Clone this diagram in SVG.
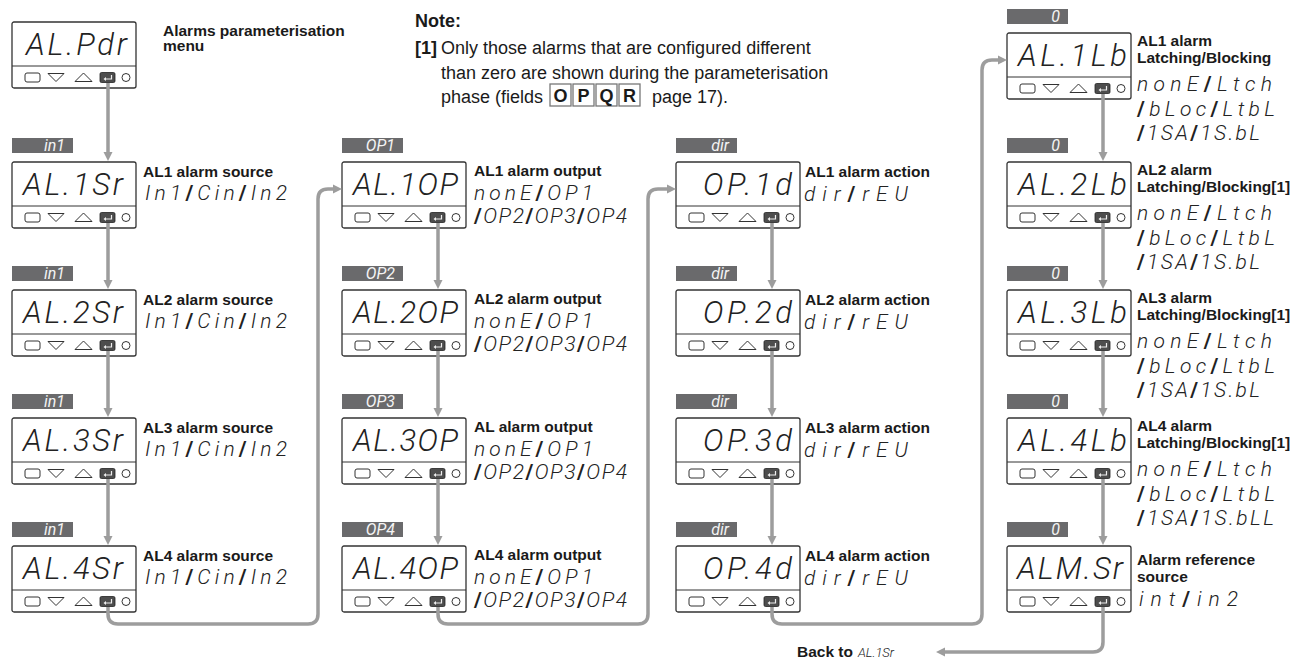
<svg xmlns="http://www.w3.org/2000/svg" xmlns:xlink="http://www.w3.org/1999/xlink" width="1296" height="659" viewBox="0 0 1296 659">
<style>
.lb{font-family:"Liberation Sans",Arial,sans-serif;font-weight:bold;font-size:15.5px;fill:#1a1a1a}
.nt{font-family:"Liberation Sans",Arial,sans-serif;font-size:18px;fill:#1a1a1a}
.ntb{font-family:"Liberation Sans",Arial,sans-serif;font-size:18px;font-weight:bold;fill:#1a1a1a}
.seg{font-family:Roboto,"DejaVu Sans",sans-serif;font-weight:300;font-style:italic;fill:#222}
.disp{font-size:31px}
.opt{font-size:21px}
.bt{font-family:Roboto,"DejaVu Sans",sans-serif;font-weight:400;font-style:italic;font-size:16px;fill:#f4f4f4;text-anchor:end}
.bar{fill:#6a6a6c}
.sl{font-weight:bold;font-style:normal}
.k{fill:none;stroke:#333;stroke-width:1}
.frame{fill:#fff;stroke:#333;stroke-width:1.3}
.cn{fill:none;stroke:#9d9d9d;stroke-width:3.5}
.bx{fill:#fff;stroke:#777;stroke-width:1.3}
</style>
<defs>
<marker id="ah" markerUnits="userSpaceOnUse" markerWidth="10" markerHeight="10" refX="3" refY="5" orient="auto">
<path d="M0,0.5 L9,5 L0,9.5 Z" fill="#9d9d9d"/>
</marker>
<g id="dev">
<rect class="frame" x="0" y="0" width="124" height="66" rx="2"/>
<line x1="0" y1="44" x2="124" y2="44" stroke="#333" stroke-width="1"/>
<rect class="k" x="13" y="51" width="15" height="9" rx="2"/>
<path class="k" d="M36,51.5 H52 L44,59.5 Z"/>
<path class="k" d="M63,59.5 H80 L71.5,51 Z"/>
<rect x="88" y="50.5" width="15" height="10" rx="1.5" fill="#4d4d4d" stroke="#222" stroke-width="0.8"/>
<path d="M99.5,53 V57 H93" stroke="#eee" stroke-width="1.2" fill="none"/>
<path d="M91.5,57 l2.5,-2 v4 Z" fill="#eee"/>
<circle class="k" cx="114" cy="55.5" r="4"/>
</g>
</defs>

<!-- Note -->
<g id="note">
<text class="ntb" x="415" y="27">Note:</text>
<text class="ntb" x="415" y="54">[1]</text>
<text class="nt" x="441" y="54">Only those alarms that are configured different</text>
<text class="nt" x="441" y="79">than zero are shown during the parameterisation</text>
<text class="nt" x="441" y="103">phase (fields</text>
<rect class="bx" x="550" y="84" width="21" height="22"/>
<rect class="bx" x="573" y="84" width="21" height="22"/>
<rect class="bx" x="596" y="84" width="21" height="22"/>
<rect class="bx" x="619" y="84" width="21" height="22"/>
<text class="ntb" x="560.5" y="101.5" text-anchor="middle">O</text>
<text class="ntb" x="583.5" y="101.5" text-anchor="middle">P</text>
<text class="ntb" x="606.5" y="101.5" text-anchor="middle">Q</text>
<text class="ntb" x="629.5" y="101.5" text-anchor="middle">R</text>
<text class="nt" x="652" y="103">page 17).</text>
</g>

<!-- Column 1 -->
<g id="n-alpar">
<use href="#dev" x="12" y="22"/>
<text class="seg disp" x="26" y="55" textLength="101" lengthAdjust="spacing">AL.Pdr</text>
<text class="lb" x="163" y="36">Alarms parameterisation</text>
<text class="lb" x="163" y="51">menu</text>
</g>
<g id="n-al1sr">
<rect class="bar" x="12" y="138" width="61" height="15"/><text class="bt" x="65" y="151">in1</text>
<use href="#dev" x="12" y="162"/>
<text class="seg disp" x="23" y="195" textLength="100" lengthAdjust="spacing">AL.1Sr</text>
<text class="lb" x="143" y="177">AL1 alarm source</text>
<text class="seg opt" x="145" y="200" textLength="142" lengthAdjust="spacing">In1<tspan class="sl">/</tspan>Cin<tspan class="sl">/</tspan>In2</text>
</g>
<g id="n-al2sr">
<rect class="bar" x="12" y="266" width="61" height="15"/><text class="bt" x="65" y="279">in1</text>
<use href="#dev" x="12" y="290"/>
<text class="seg disp" x="23" y="323" textLength="100" lengthAdjust="spacing">AL.2Sr</text>
<text class="lb" x="143" y="305">AL2 alarm source</text>
<text class="seg opt" x="145" y="328" textLength="142" lengthAdjust="spacing">In1<tspan class="sl">/</tspan>Cin<tspan class="sl">/</tspan>In2</text>
</g>
<g id="n-al3sr">
<rect class="bar" x="12" y="394" width="61" height="15"/><text class="bt" x="65" y="407">in1</text>
<use href="#dev" x="12" y="418"/>
<text class="seg disp" x="23" y="451" textLength="100" lengthAdjust="spacing">AL.3Sr</text>
<text class="lb" x="143" y="433">AL3 alarm source</text>
<text class="seg opt" x="145" y="456" textLength="142" lengthAdjust="spacing">In1<tspan class="sl">/</tspan>Cin<tspan class="sl">/</tspan>In2</text>
</g>
<g id="n-al4sr">
<rect class="bar" x="12" y="522" width="61" height="15"/><text class="bt" x="65" y="535">in1</text>
<use href="#dev" x="12" y="546"/>
<text class="seg disp" x="23" y="579" textLength="100" lengthAdjust="spacing">AL.4Sr</text>
<text class="lb" x="143" y="561">AL4 alarm source</text>
<text class="seg opt" x="145" y="584" textLength="142" lengthAdjust="spacing">In1<tspan class="sl">/</tspan>Cin<tspan class="sl">/</tspan>In2</text>
</g>

<!-- Column 2 -->
<g id="n-al1op">
<rect class="bar" x="342" y="138" width="61" height="15"/><text class="bt" x="395" y="151">OP1</text>
<use href="#dev" x="342" y="162"/>
<text class="seg disp" x="353" y="195" textLength="105" lengthAdjust="spacing">AL.1OP</text>
<text class="lb" x="474" y="176">AL1 alarm output</text>
<text class="seg opt" x="474" y="200" textLength="119" lengthAdjust="spacing">nonE<tspan class="sl">/</tspan>OP1</text>
<text class="seg opt" x="474" y="223" textLength="153" lengthAdjust="spacing"><tspan class="sl">/</tspan>OP2<tspan class="sl">/</tspan>OP3<tspan class="sl">/</tspan>OP4</text>
</g>
<g id="n-al2op">
<rect class="bar" x="342" y="266" width="61" height="15"/><text class="bt" x="395" y="279">OP2</text>
<use href="#dev" x="342" y="290"/>
<text class="seg disp" x="353" y="323" textLength="105" lengthAdjust="spacing">AL.2OP</text>
<text class="lb" x="474" y="304">AL2 alarm output</text>
<text class="seg opt" x="474" y="328" textLength="119" lengthAdjust="spacing">nonE<tspan class="sl">/</tspan>OP1</text>
<text class="seg opt" x="474" y="351" textLength="153" lengthAdjust="spacing"><tspan class="sl">/</tspan>OP2<tspan class="sl">/</tspan>OP3<tspan class="sl">/</tspan>OP4</text>
</g>
<g id="n-al3op">
<rect class="bar" x="342" y="394" width="61" height="15"/><text class="bt" x="395" y="407">OP3</text>
<use href="#dev" x="342" y="418"/>
<text class="seg disp" x="353" y="451" textLength="105" lengthAdjust="spacing">AL.3OP</text>
<text class="lb" x="474" y="432">AL alarm output</text>
<text class="seg opt" x="474" y="456" textLength="119" lengthAdjust="spacing">nonE<tspan class="sl">/</tspan>OP1</text>
<text class="seg opt" x="474" y="479" textLength="153" lengthAdjust="spacing"><tspan class="sl">/</tspan>OP2<tspan class="sl">/</tspan>OP3<tspan class="sl">/</tspan>OP4</text>
</g>
<g id="n-al4op">
<rect class="bar" x="342" y="522" width="61" height="15"/><text class="bt" x="395" y="535">OP4</text>
<use href="#dev" x="342" y="546"/>
<text class="seg disp" x="353" y="579" textLength="105" lengthAdjust="spacing">AL.4OP</text>
<text class="lb" x="474" y="560">AL4 alarm output</text>
<text class="seg opt" x="474" y="584" textLength="119" lengthAdjust="spacing">nonE<tspan class="sl">/</tspan>OP1</text>
<text class="seg opt" x="474" y="607" textLength="153" lengthAdjust="spacing"><tspan class="sl">/</tspan>OP2<tspan class="sl">/</tspan>OP3<tspan class="sl">/</tspan>OP4</text>
</g>

<!-- Column 3 -->
<g id="n-op1d">
<rect class="bar" x="676" y="138" width="61" height="15"/><text class="bt" x="729" y="151">dir</text>
<use href="#dev" x="676" y="162"/>
<text class="seg disp" x="703" y="195" textLength="89" lengthAdjust="spacing">OP.1d</text>
<text class="lb" x="805" y="177">AL1 alarm action</text>
<text class="seg opt" x="804" y="201" textLength="104" lengthAdjust="spacing">dir<tspan class="sl">/</tspan>rEU</text>
</g>
<g id="n-op2d">
<rect class="bar" x="676" y="266" width="61" height="15"/><text class="bt" x="729" y="279">dir</text>
<use href="#dev" x="676" y="290"/>
<text class="seg disp" x="703" y="323" textLength="89" lengthAdjust="spacing">OP.2d</text>
<text class="lb" x="805" y="305">AL2 alarm action</text>
<text class="seg opt" x="804" y="329" textLength="104" lengthAdjust="spacing">dir<tspan class="sl">/</tspan>rEU</text>
</g>
<g id="n-op3d">
<rect class="bar" x="676" y="394" width="61" height="15"/><text class="bt" x="729" y="407">dir</text>
<use href="#dev" x="676" y="418"/>
<text class="seg disp" x="703" y="451" textLength="89" lengthAdjust="spacing">OP.3d</text>
<text class="lb" x="805" y="433">AL3 alarm action</text>
<text class="seg opt" x="804" y="457" textLength="104" lengthAdjust="spacing">dir<tspan class="sl">/</tspan>rEU</text>
</g>
<g id="n-op4d">
<rect class="bar" x="676" y="522" width="61" height="15"/><text class="bt" x="729" y="535">dir</text>
<use href="#dev" x="676" y="546"/>
<text class="seg disp" x="703" y="579" textLength="89" lengthAdjust="spacing">OP.4d</text>
<text class="lb" x="805" y="561">AL4 alarm action</text>
<text class="seg opt" x="804" y="585" textLength="104" lengthAdjust="spacing">dir<tspan class="sl">/</tspan>rEU</text>
</g>

<!-- Column 4 -->
<g id="n-al1lb">
<rect class="bar" x="1007" y="9" width="61" height="15"/><text class="bt" x="1060" y="22">0</text>
<use href="#dev" x="1007" y="33"/>
<text class="seg disp" x="1018" y="66" textLength="109" lengthAdjust="spacing">AL.1Lb</text>
<text class="lb" x="1137" y="46">AL1 alarm</text>
<text class="lb" x="1137" y="63">Latching/Blocking</text>
<text class="seg opt" x="1137" y="91" textLength="135" lengthAdjust="spacing">nonE<tspan class="sl">/</tspan>Ltch</text>
<text class="seg opt" x="1137" y="116" textLength="138" lengthAdjust="spacing"><tspan class="sl">/</tspan>bLoc<tspan class="sl">/</tspan>LtbL</text>
<text class="seg opt" x="1137" y="140" textLength="123" lengthAdjust="spacing"><tspan class="sl">/</tspan>1SA<tspan class="sl">/</tspan>1S.bL</text>
</g>
<g id="n-al2lb">
<rect class="bar" x="1007" y="138" width="61" height="15"/><text class="bt" x="1060" y="151">0</text>
<use href="#dev" x="1007" y="162"/>
<text class="seg disp" x="1018" y="195" textLength="109" lengthAdjust="spacing">AL.2Lb</text>
<text class="lb" x="1137" y="175">AL2 alarm</text>
<text class="lb" x="1137" y="192">Latching/Blocking[1]</text>
<text class="seg opt" x="1137" y="220" textLength="135" lengthAdjust="spacing">nonE<tspan class="sl">/</tspan>Ltch</text>
<text class="seg opt" x="1137" y="245" textLength="138" lengthAdjust="spacing"><tspan class="sl">/</tspan>bLoc<tspan class="sl">/</tspan>LtbL</text>
<text class="seg opt" x="1137" y="269" textLength="123" lengthAdjust="spacing"><tspan class="sl">/</tspan>1SA<tspan class="sl">/</tspan>1S.bL</text>
</g>
<g id="n-al3lb">
<rect class="bar" x="1007" y="266" width="61" height="15"/><text class="bt" x="1060" y="279">0</text>
<use href="#dev" x="1007" y="290"/>
<text class="seg disp" x="1018" y="323" textLength="109" lengthAdjust="spacing">AL.3Lb</text>
<text class="lb" x="1137" y="303">AL3 alarm</text>
<text class="lb" x="1137" y="320">Latching/Blocking[1]</text>
<text class="seg opt" x="1137" y="348" textLength="135" lengthAdjust="spacing">nonE<tspan class="sl">/</tspan>Ltch</text>
<text class="seg opt" x="1137" y="373" textLength="138" lengthAdjust="spacing"><tspan class="sl">/</tspan>bLoc<tspan class="sl">/</tspan>LtbL</text>
<text class="seg opt" x="1137" y="397" textLength="123" lengthAdjust="spacing"><tspan class="sl">/</tspan>1SA<tspan class="sl">/</tspan>1S.bL</text>
</g>
<g id="n-al4lb">
<rect class="bar" x="1007" y="394" width="61" height="15"/><text class="bt" x="1060" y="407">0</text>
<use href="#dev" x="1007" y="418"/>
<text class="seg disp" x="1018" y="451" textLength="109" lengthAdjust="spacing">AL.4Lb</text>
<text class="lb" x="1137" y="431">AL4 alarm</text>
<text class="lb" x="1137" y="448">Latching/Blocking[1]</text>
<text class="seg opt" x="1137" y="476" textLength="135" lengthAdjust="spacing">nonE<tspan class="sl">/</tspan>Ltch</text>
<text class="seg opt" x="1137" y="501" textLength="138" lengthAdjust="spacing"><tspan class="sl">/</tspan>bLoc<tspan class="sl">/</tspan>LtbL</text>
<text class="seg opt" x="1137" y="525" textLength="137" lengthAdjust="spacing"><tspan class="sl">/</tspan>1SA<tspan class="sl">/</tspan>1S.bLL</text>
</g>
<g id="n-almsr">
<rect class="bar" x="1007" y="522" width="61" height="15"/><text class="bt" x="1060" y="535">0</text>
<use href="#dev" x="1007" y="546"/>
<text class="seg disp" x="1017" y="579" textLength="106" lengthAdjust="spacing">ALM.Sr</text>
<text class="lb" x="1137" y="565">Alarm reference</text>
<text class="lb" x="1137" y="582">source</text>
<text class="seg opt" x="1139" y="606" textLength="99" lengthAdjust="spacing">int<tspan class="sl">/</tspan>in2</text>
</g>

<!-- Connectors -->
<g id="connectors">
<path class="cn" marker-end="url(#ah)" d="M108,83 V155"/>
<path class="cn" marker-end="url(#ah)" d="M108,223 V283"/>
<path class="cn" marker-end="url(#ah)" d="M108,351 V411"/>
<path class="cn" marker-end="url(#ah)" d="M108,479 V539"/>
<path class="cn" marker-end="url(#ah)" d="M108,607 V614 Q108,624 118,624 H308 Q318,624 318,614 V199 Q318,189 328,189 H336"/>
<path class="cn" marker-end="url(#ah)" d="M438,223 V283"/>
<path class="cn" marker-end="url(#ah)" d="M438,351 V411"/>
<path class="cn" marker-end="url(#ah)" d="M438,479 V539"/>
<path class="cn" marker-end="url(#ah)" d="M438,607 V614 Q438,624 448,624 H638 Q648,624 648,614 V199 Q648,189 658,189 H670"/>
<path class="cn" marker-end="url(#ah)" d="M772,223 V283"/>
<path class="cn" marker-end="url(#ah)" d="M772,351 V411"/>
<path class="cn" marker-end="url(#ah)" d="M772,479 V539"/>
<path class="cn" marker-end="url(#ah)" d="M772,607 V614 Q772,624 782,624 H972 Q982,624 982,614 V70 Q982,60 992,60 H1001"/>
<path class="cn" marker-end="url(#ah)" d="M1103,94 V155"/>
<path class="cn" marker-end="url(#ah)" d="M1103,223 V283"/>
<path class="cn" marker-end="url(#ah)" d="M1103,351 V411"/>
<path class="cn" marker-end="url(#ah)" d="M1103,479 V539"/>
<path class="cn" marker-end="url(#ah)" d="M1103,607 V642 Q1103,652 1093,652 H942"/>
</g>
<g id="back">
<text class="lb" x="797" y="657">Back to</text>
<text class="seg" x="858" y="657" font-size="13" fill="#666" textLength="36" lengthAdjust="spacing">AL.1Sr</text>
</g>
</svg>
